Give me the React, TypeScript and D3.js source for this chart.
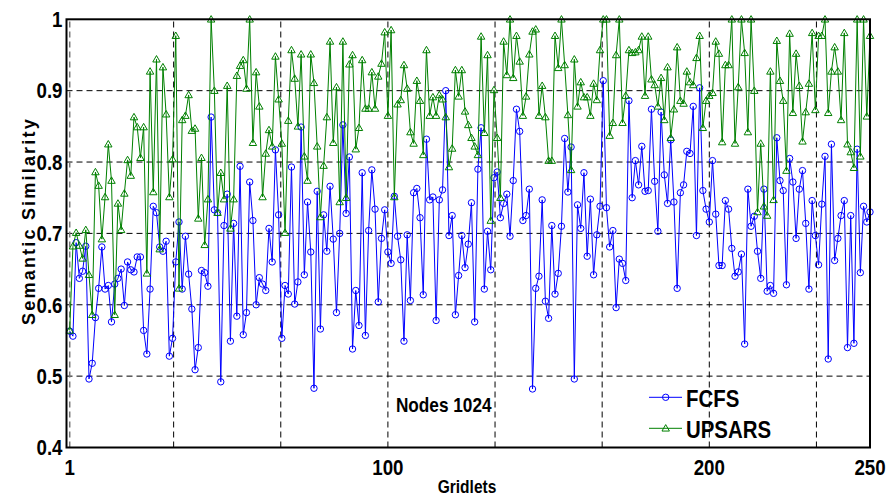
import React from "react";
import * as d3 from "d3";

const W = 890;
const H = 497;

const fcfs: number[] = [
  0.563,0.556,0.687,0.637,0.647,0.682,0.496,0.518,0.582,0.623,0.681,0.622,0.627,0.576,0.629,0.637,0.650,0.599,0.660,0.649,0.646,0.667,0.667,0.564,0.531,0.622,0.738,0.729,0.681,0.675,0.689,0.528,
  0.553,0.660,0.716,0.622,0.696,0.643,0.594,0.509,0.540,0.648,0.645,0.626,0.863,0.733,0.729,0.492,0.711,0.755,0.549,0.714,0.584,0.794,0.558,0.589,0.772,0.718,0.600,0.638,0.629,0.620,0.707,0.660,0.817,
  0.726,0.553,0.627,0.615,0.793,0.601,0.632,0.849,0.642,0.744,0.674,0.483,0.759,0.566,0.726,0.675,0.766,0.692,0.589,0.700,0.852,0.728,0.807,0.538,0.620,0.571,0.785,0.557,0.704,0.789,0.734,0.604,
  0.693,0.733,0.674,0.658,0.752,0.696,0.663,0.549,0.698,0.606,0.757,0.763,0.722,0.614,0.832,0.747,0.751,0.578,0.747,0.761,0.900,0.697,0.725,0.586,0.641,0.697,0.652,0.685,0.743,0.576,0.790,0.848,
  0.622,0.703,0.649,0.778,0.786,0.722,0.742,0.755,0.696,0.774,0.874,0.843,0.718,0.725,0.762,0.482,0.623,0.640,0.747,0.605,0.581,0.711,0.615,0.644,0.710,0.833,0.758,0.821,0.496,0.740,0.707,0.785,
  0.668,0.748,0.642,0.698,0.738,0.914,0.736,0.681,0.704,0.596,0.664,0.658,0.634,0.886,0.750,0.802,0.768,0.822,0.759,0.760,0.874,0.773,0.703,0.870,0.782,0.742,0.831,0.744,0.623,0.757,0.768,0.815,
  0.812,0.878,0.697,0.904,0.760,0.734,0.716,0.802,0.727,0.655,0.655,0.746,0.734,0.679,0.640,0.646,0.671,0.545,0.762,0.710,0.724,0.675,0.637,0.762,0.619,0.627,0.616,0.834,0.774,0.760,0.628,0.805,0.772,0.693,
  0.762,0.788,0.714,0.622,0.746,0.697,0.656,0.741,0.808,0.524,0.825,0.662,0.693,0.725,0.746,0.540,0.725,0.546,0.818,0.645,0.738,0.716,0.730,
];

const upsars: number[] = [
  0.564,0.682,0.701,0.683,0.665,0.705,0.642,0.586,0.786,0.767,0.692,0.751,0.825,0.774,0.586,0.742,0.705,0.756,0.803,0.781,0.863,0.849,0.806,0.849,0.644,0.927,0.758,0.944,0.678,0.933,0.867,0.751,
  0.804,0.977,0.623,0.859,0.865,0.894,0.844,0.847,0.721,0.806,0.684,0.748,1.0,0.900,0.729,0.785,0.748,0.907,0.707,0.748,0.921,0.935,0.943,0.903,1.0,0.827,0.926,0.878,0.751,0.812,0.845,0.822,0.948,
  0.888,0.826,0.701,0.858,0.957,0.917,0.850,0.951,0.808,0.774,0.951,0.911,0.822,0.723,0.795,0.863,0.969,0.827,0.905,0.744,0.969,0.750,0.937,0.950,0.818,0.848,0.943,0.875,0.875,0.926,0.875,0.920,
  0.938,0.982,0.865,0.985,0.751,0.881,0.887,0.936,0.903,0.842,0.826,0.914,0.886,0.810,0.957,0.865,0.891,0.865,0.894,0.888,0.863,0.793,0.819,0.929,0.892,0.929,0.871,0.852,0.834,0.822,0.810,0.976,
  0.841,0.950,0.718,0.901,0.834,0.750,0.969,0.922,1.0,0.918,0.977,0.941,0.865,0.892,0.951,0.983,0.986,0.865,0.907,0.863,0.802,0.802,0.977,0.932,1.0,0.936,0.866,0.789,0.944,0.878,0.912,0.891,
  0.891,0.865,0.910,0.887,0.957,1.0,1.0,0.837,0.855,0.950,1.0,0.855,0.893,0.957,0.953,0.954,0.957,0.976,0.893,0.976,0.916,0.908,0.878,0.918,0.859,0.933,0.834,0.874,0.961,0.886,0.882,0.927,
  0.912,0.908,0.946,0.977,0.848,0.886,0.893,0.897,0.969,0.952,0.828,0.936,0.936,1.0,0.826,0.905,1.0,0.953,0.842,1.0,0.900,0.730,0.826,0.738,0.725,0.927,0.747,0.970,0.914,0.886,0.788,0.980,0.869,0.952,
  0.907,0.829,0.870,0.910,0.981,0.873,0.977,0.977,1.0,0.869,0.927,0.961,0.927,0.859,0.981,0.825,0.814,0.792,1.0,0.808,1.0,0.864,0.977,
];

const xGridTicks: number[] = [1, 100 / 3, 200 / 3, 100, 400 / 3, 500 / 3, 200, 700 / 3];
const xTickLabels: number[] = [1, 100, 200, 250];
const yTicks: number[] = [0.4, 0.5, 0.6, 0.7, 0.8, 0.9, 1];
const seriesNames: string[] = ["FCFS", "UPSARS"];
const seriesColors: string[] = ["#0000ff", "#008000"];

const FONT = "'Liberation Sans', Arial, Helvetica, sans-serif";

export default function App() {
  const x = d3.scaleLinear().domain([0, 250]).range([66.5, 870]);
  const y = d3.scaleLinear().domain([0.4, 1]).range([447.5, 19.3]);
  const line = d3
    .line<number>()
    .x((_, i) => x(i + 1))
    .y((d) => y(d));
  const tri = d3.symbol(d3.symbolTriangle, 24)() as string;
  const [x0, x1] = x.range();
  const [yb, yt] = y.range();

  const marker = (k: number, cx: number, cy: number, key: string | number) =>
    k === 0 ? (
      <circle key={key} cx={cx} cy={cy} r={3.2} fill="none" stroke={seriesColors[0]} strokeWidth={1} />
    ) : (
      <path key={key} d={tri} transform={`translate(${cx},${cy + 0.6})`} fill="none" stroke={seriesColors[1]} strokeWidth={1} />
    );

  const series = [fcfs, upsars];

  return (
    <svg width={W} height={H} style={{ position: "absolute", left: 0, top: 0, background: "#fff" }}>
      <rect x={0} y={0} width={W} height={H} fill="#fff" />
      {/* grid */}
      {yTicks.slice(1, -1).map((t) => (
        <line key={"gy" + t} x1={x0} x2={x1} y1={y(t)} y2={y(t)} stroke="#000" strokeWidth={1} strokeDasharray="6,4" />
      ))}
      {xGridTicks.map((t, i) => (
        <line
          key={"gx" + i}
          x1={x(t)}
          x2={x(t)}
          y1={yb}
          y2={yt}
          stroke={i === 0 ? "#777" : "#000"}
          strokeWidth={i === 0 ? 1.5 : 1}
          strokeDasharray="6,4"
        />
      ))}
      {/* series */}
      {series.map((data, k) => (
        <g key={"s" + k}>
          <path d={line(data) as string} fill="none" stroke={seriesColors[k]} strokeWidth={1} />
          {data.map((v, i) => marker(k, x(i + 1), y(v), i))}
        </g>
      ))}
      {/* axes box */}
      <rect x={x0} y={yt} width={x1 - x0} height={yb - yt} fill="none" stroke="#000" strokeWidth={2} />
      {/* y tick labels */}
      {yTicks.map((t) => (
        <text
          key={"yl" + t}
          transform={`translate(62.5,${y(t) + 7.8}) scale(0.85,1)`}
          textAnchor="end"
          fontFamily={FONT}
          fontWeight="bold"
          fontSize={22}
          fill="#000"
        >
          {t === 1 ? "1" : t.toFixed(1)}
        </text>
      ))}
      {/* x tick labels */}
      {xTickLabels.map((t) => (
        <text
          key={"xl" + t}
          transform={`translate(${x(t)},${474.5}) scale(0.85,1)`}
          textAnchor="middle"
          fontFamily={FONT}
          fontWeight="bold"
          fontSize={22}
          fill="#000"
        >
          {t}
        </text>
      ))}
      {/* axis labels */}
      <text
        transform={`translate(467,493) scale(0.84,1)`}
        textAnchor="middle"
        fontFamily={FONT}
        fontWeight="bold"
        fontSize={18.5}
        fill="#000"
      >
        Gridlets
      </text>
      <text
        transform={`translate(35,221) rotate(-90)`}
        textAnchor="middle"
        fontFamily={FONT}
        fontWeight="bold"
        fontSize={18}
        letterSpacing={2.2}
        fill="#000"
      >
        Semantic Similarity
      </text>
      <text
        transform={`translate(443.7,412.3) scale(0.82,1)`}
        textAnchor="middle"
        fontFamily={FONT}
        fontWeight="bold"
        fontSize={21}
        fill="#000"
      >
        Nodes 1024
      </text>
      {/* legend */}
      {seriesNames.map((name, k) => {
        const ly = k === 0 ? 397.3 : 428.3;
        return (
          <g key={"lg" + k}>
            <line x1={649} x2={682} y1={ly} y2={ly} stroke={seriesColors[k]} strokeWidth={1} />
            {marker(k, 665.7, ly, "m")}
            <text
              transform={`translate(686,${ly + 9.5}) scale(0.85,1)`}
              fontFamily={FONT}
              fontWeight="bold"
              fontSize={24}
              fill="#000"
            >
              {name}
            </text>
          </g>
        );
      })}
    </svg>
  );
}
